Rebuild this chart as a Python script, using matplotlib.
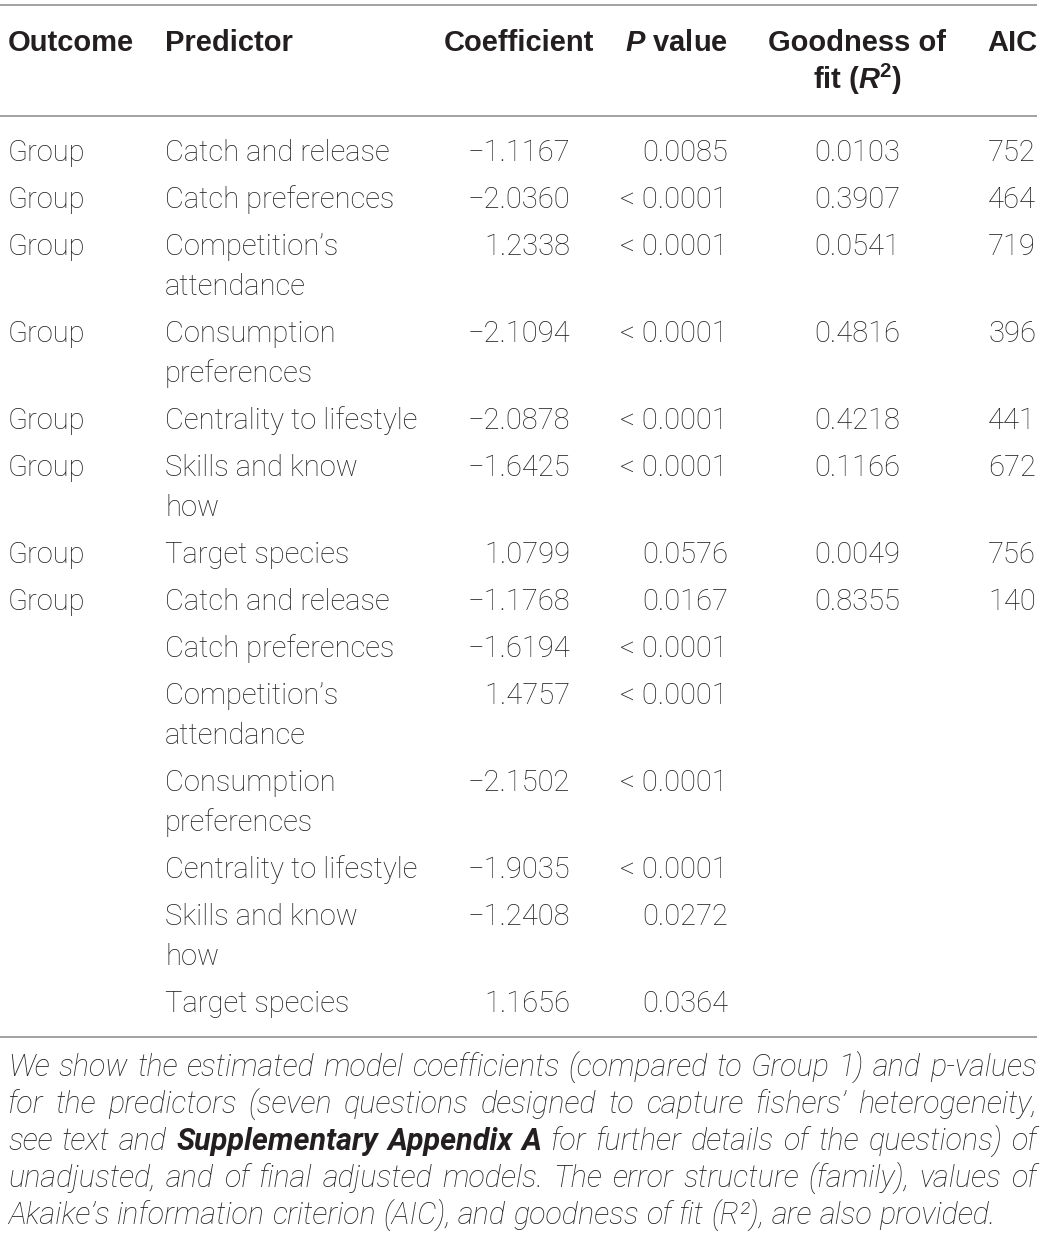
import matplotlib
matplotlib.use("Agg")
import matplotlib.pyplot as plt

# ---------------- data ----------------
headers = ["Outcome", "Predictor", "Coefficient", "P value", "Goodness of fit (R2)", "AIC"]
outcomes = ["Group", "Group", "Group", "Group", "Group", "Group", "Group", "Group",
            "", "", "", "", "", ""]
predictors = ["Catch and release", "Catch preferences", "Competition\u2019s\nattendance",
              "Consumption\npreferences", "Centrality to lifestyle", "Skills and know\nhow",
              "Target species", "Catch and release", "Catch preferences",
              "Competition\u2019s\nattendance", "Consumption\npreferences",
              "Centrality to lifestyle", "Skills and know\nhow", "Target species"]
coefficients = ["\u22121.1167", "\u22122.0360", "1.2338", "\u22122.1094", "\u22122.0878",
                "\u22121.6425", "1.0799", "\u22121.1768", "\u22121.6194", "1.4757",
                "\u22122.1502", "\u22121.9035", "\u22121.2408", "1.1656"]
p_values = ["0.0085", "< 0.0001", "< 0.0001", "< 0.0001", "< 0.0001", "< 0.0001",
            "0.0576", "0.0167", "< 0.0001", "< 0.0001", "< 0.0001", "< 0.0001",
            "0.0272", "0.0364"]
r2_values = ["0.0103", "0.3907", "0.0541", "0.4816", "0.4218", "0.1166", "0.0049",
             "0.8355", "", "", "", "", "", ""]
aic_values = ["752", "464", "719", "396", "441", "672", "756", "140",
              "", "", "", "", "", ""]

footnote_lines = [
    [("We show the estimated model coefficients (compared to Group 1) and p-values", "n")],
    [("for the predictors (seven questions designed to capture fishers\u2019 heterogeneity,", "n")],
    [("see text and", "n"), ("Supplementary Appendix A", "b"),
     ("for further details of the questions) of", "n")],
    [("unadjusted, and of final adjusted models. The error structure (family), values of", "n")],
    [("Akaike\u2019s information criterion (AIC), and goodness of fit (R\u00b2), are also provided.", "n")],
]

# ---------------- style ----------------
FONT = "Roboto"
HFONT = "Liberation Sans"
plt.rcParams["font.family"] = [FONT, "DejaVu Sans"]
plt.rcParams["mathtext.fontset"] = "custom"
plt.rcParams["mathtext.rm"] = HFONT + ":bold"
plt.rcParams["mathtext.it"] = HFONT + ":bold:italic"
plt.rcParams["mathtext.bf"] = HFONT + ":bold"
plt.rcParams["mathtext.bfit"] = HFONT + ":bold:italic"

TXT = "#231f20"
LINE = "#9a9a9a"
FS = 21
HFS = 21
NFS = 22
W, H = 1045, 1237

fig = plt.figure(figsize=(W / 100, H / 100), dpi=100)
ax = fig.add_axes([0, 0, 1, 1])
ax.set_xlim(0, W)
ax.set_ylim(H, 0)
ax.axis("off")

BASE = 9  # baseline offset from visual centre of a text line

def put(x, yc, s, ha="left", weight="light", style="normal", size=FS, family=None):
    kw = {}
    if family:
        kw["family"] = [family, "DejaVu Sans"]
    return ax.text(x, yc + BASE, s, ha=ha, va="baseline", fontsize=size,
                   fontweight=weight, fontstyle=style, color=TXT, **kw)

def head(x, yc, s, ha="left"):
    return put(x, yc, s, ha=ha, weight="bold", size=HFS, family=HFONT)

# rules
x0, x1 = 0, 1037
for y in (5, 116, 1037):
    ax.plot([x0, x1], [y, y], color=LINE, lw=1.3, solid_capstyle="butt")

# header
head(8, 42, headers[0])
head(165, 42, headers[1])
head(519, 42, headers[2], ha="center")
head(676, 42, r"$\mathbfit{P}$ value", ha="center")
head(857, 42, "Goodness of", ha="center")
head(857, 80, r"fit ($\mathbfit{R}^{\mathbf{2}}$)", ha="center")
head(1037, 42, headers[5], ha="right")

# body
y = 152
for i in range(len(predictors)):
    lines = predictors[i].split("\n")
    put(8, y, outcomes[i])
    for k, ln in enumerate(lines):
        put(165, y + 40 * k, ln)
    put(570, y, coefficients[i], ha="right")
    put(728, y, p_values[i], ha="right")
    put(857, y, r2_values[i], ha="center")
    put(1036, y, aic_values[i], ha="right")
    y += 47 + 40 * (len(lines) - 1)

# footnote (justified)
fig.canvas.draw()
renderer = fig.canvas.get_renderer()

def width_of(s, weight):
    t = ax.text(0, 0, s, fontsize=NFS, fontstyle="italic", fontweight=weight)
    w = t.get_window_extent(renderer).width
    t.remove()
    return w

fy = 1067
left, right = 8, 1037
for li, segs in enumerate(footnote_lines):
    words = []
    for s, kind in segs:
        wt = "bold" if kind == "b" else "light"
        for p in s.split(" "):
            words.append((p, wt))
    widths = [width_of(w, wt) for w, wt in words]
    space = width_of("a a", "light") - 2 * width_of("a", "light")
    last = li == len(footnote_lines) - 1
    if not last and len(words) > 1:
        gap = (right - left - sum(widths)) / (len(words) - 1)
    else:
        gap = space
    x = left
    for (w, wt), wd in zip(words, widths):
        ax.text(x, fy + BASE, w, ha="left", va="baseline", fontsize=NFS,
                fontstyle="italic", fontweight=wt, color=TXT)
        x += wd + gap
    fy += 37

fig.savefig("out.png", dpi=100, facecolor="white")
